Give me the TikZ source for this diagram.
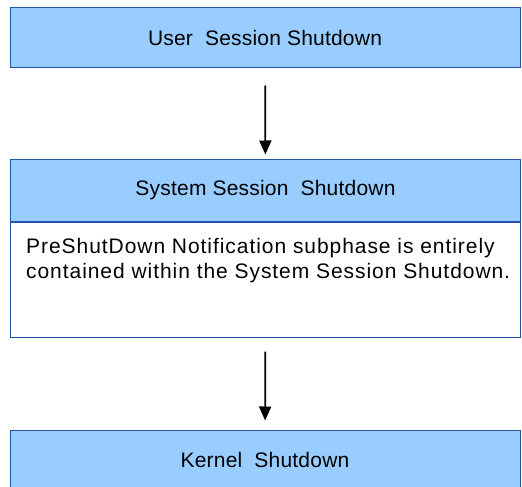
\documentclass[tikz,border=0pt]{standalone}
\usepackage{fontspec}
\setmainfont{Liberation Sans}
\newfontfamily\headfont[LetterSpace=1]{Liberation Sans}
\newfontfamily\notefont[LetterSpace=4.5]{Liberation Sans}
\usetikzlibrary{arrows.meta,positioning}

\definecolor{phasefill}{HTML}{99CCFF}
\definecolor{phaseline}{HTML}{2255AA}

\begin{document}
\begin{tikzpicture}[x=1pt, y=-1pt,
  phase/.style = {draw=phaseline, fill=phasefill, line width=1pt, inner sep=0pt,
                  minimum width=510pt, minimum height=60pt,
                  font=\headfont\fontsize{21}{24}\selectfont},
  notebox/.style = {draw=phaseline, fill=white, line width=1pt, inner sep=0pt,
                    minimum width=510pt, minimum height=115pt},
  notetext/.style = {inner sep=0pt, align=left,
                     font=\notefont\fontsize{21}{25}\selectfont},
  flow/.style = {-{Triangle[width=12pt,length=14pt]}, line width=1.8pt},
  ]
  \useasboundingbox (0,0) rectangle (522,487);
  \clip (0,0) rectangle (522,487);

  % the three shutdown phases
  \node[phase] (user) at (265,38) {User\ \ Session Shutdown};
  \node[phase, minimum height=62pt] (system) at (265.5,190) {System Session\ \ Shutdown};
  \node[notebox, below=0pt of system] (note) {};
  \node[notetext, anchor=north west] (notetxt) at (26,238)
    {PreShutDown Notification subphase is entirely\\
     contained within the System Session Shutdown.};
  \node[phase] (kernel) at (265,460) {Kernel\ \ Shutdown};

  % order of the phases
  \draw[flow, shorten <=17pt, shorten >=4pt] (user) -- (system);
  \draw[flow, shorten <=14pt, shorten >=9pt] (note) -- (kernel);
\end{tikzpicture}
\end{document}
